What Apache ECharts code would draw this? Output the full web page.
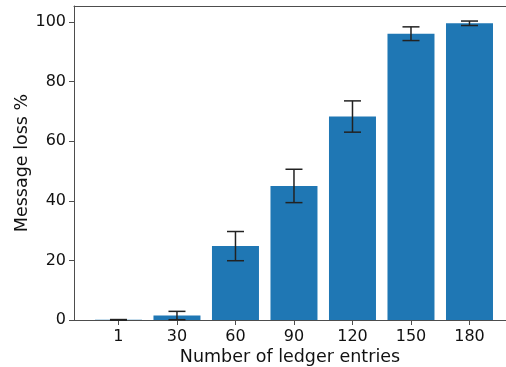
<!DOCTYPE html>
<html>
<head>
<meta charset="utf-8">
<script src="https://cdn.jsdelivr.net/npm/echarts@6/dist/echarts.min.js"></script>
<style>
  html, body { margin: 0; padding: 0; background: #fff; }
  #chart { width: 506px; height: 367px; }
</style>
</head>
<body>
<div id="chart"></div>
<script>
// Ledger size vs. message loss (mean ± spread)
const categories = ['1', '30', '60', '90', '120', '150', '180'];
const lossMean = [0.05, 1.5, 24.8, 45.0, 68.3, 96.1, 99.6];
const lossErr = [0.1, 1.4, 4.9, 5.6, 5.25, 2.3, 0.75];
const yTicks = [0, 20, 40, 60, 80, 100];

const positions = categories.map((_, i) => i);
const barData = lossMean.map((v, i) => [i, v]);
const errData = lossMean.map((v, i) => [i, v - lossErr[i], v + lossErr[i]]);

const axisColor = '#4d4d4d';
const textColor = '#111';
const font = 'DejaVu Sans';
const xMin = -0.76, xMax = 6.624;

const chart = echarts.init(document.getElementById('chart'), null, { renderer: 'canvas' });
chart.setOption({
  animation: false,
  backgroundColor: '#fff',
  grid: { left: 74, top: 6, right: 0, bottom: 47, show: false, outerBoundsMode: 'none', containLabel: false },
  xAxis: [
    {
      type: 'value',
      min: xMin, max: xMax,
      name: 'Number of ledger entries',
      nameLocation: 'middle',
      nameGap: 28,
      nameMoveOverlap: false,
      nameTextStyle: { fontFamily: font, fontSize: 17.5, color: textColor },
      axisLine: { show: true, onZero: false, lineStyle: { color: axisColor, width: 1 } },
      axisTick: { show: true, length: 5, customValues: positions, lineStyle: { color: axisColor } },
      axisLabel: {
        customValues: positions,
        margin: 9,
        fontFamily: font, fontSize: 16, color: textColor,
        formatter: v => categories[Math.round(v)]
      },
      splitLine: { show: false }
    },
    {
      // top frame line
      type: 'value',
      position: 'top',
      min: xMin, max: xMax,
      axisLine: { show: true, onZero: false, lineStyle: { color: axisColor, width: 1 } },
      axisTick: { show: false },
      axisLabel: { show: false },
      splitLine: { show: false }
    }
  ],
  yAxis: {
    type: 'value',
    min: 0, max: 105.4,
    name: 'Message loss %',
    nameLocation: 'middle',
    nameGap: 43,
    nameMoveOverlap: false,
    nameTextStyle: { fontFamily: font, fontSize: 17.5, color: textColor },
    axisLine: { show: true, onZero: false, lineStyle: { color: axisColor, width: 1 } },
    axisTick: { show: true, length: 5, customValues: yTicks, lineStyle: { color: axisColor } },
    axisLabel: {
      customValues: yTicks,
      margin: 8,
      fontFamily: font, fontSize: 16, color: textColor
    },
    splitLine: { show: false }
  },
  series: [
    {
      type: 'bar',
      data: barData,
      barWidth: 47,
      itemStyle: { color: '#1f77b4' },
      z: 2
    },
    {
      type: 'custom',
      data: errData,
      z: 5,
      renderItem: function (params, api) {
        const x = api.value(0);
        const lo = api.coord([x, api.value(1)]);
        const hi = api.coord([x, api.value(2)]);
        const half = 8.5;
        const style = { stroke: '#222', lineWidth: 1.5 };
        return {
          type: 'group',
          children: [
            { type: 'line', shape: { x1: lo[0], y1: lo[1], x2: hi[0], y2: hi[1] }, style },
            { type: 'line', shape: { x1: hi[0] - half, y1: hi[1], x2: hi[0] + half, y2: hi[1] }, style },
            { type: 'line', shape: { x1: lo[0] - half, y1: lo[1], x2: lo[0] + half, y2: lo[1] }, style }
          ]
        };
      }
    }
  ]
});
</script>
</body>
</html>
